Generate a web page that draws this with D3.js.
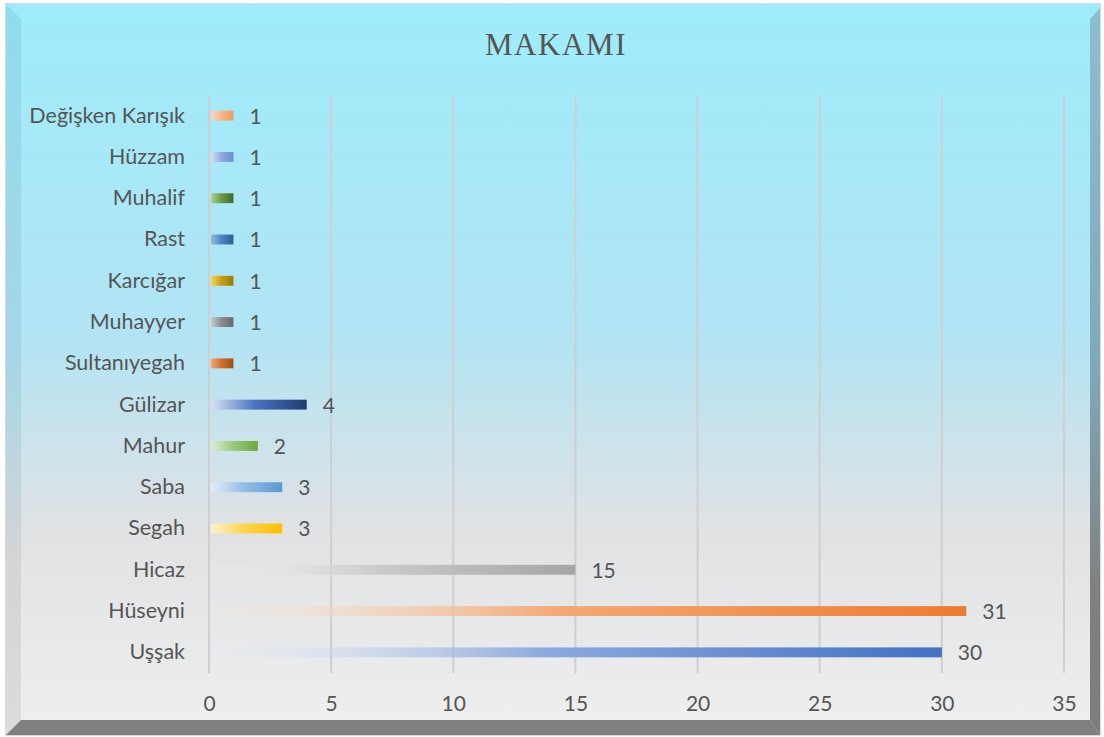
<!DOCTYPE html>
<html>
<head>
<meta charset="utf-8">
<script src="https://cdn.jsdelivr.net/npm/d3@7"></script>
<style>
  body { margin: 0; background: #fff; }
  svg { display: block; }
</style>
</head>
<body>
<div id="chart"></div>
<script>
const categories = ["Değişken Karışık", "Hüzzam", "Muhalif", "Rast", "Karcığar", "Muhayyer",
  "Sultanıyegah", "Gülizar", "Mahur", "Saba", "Segah", "Hicaz", "Hüseyni", "Uşşak"];
const values = [1, 1, 1, 1, 1, 1, 1, 4, 2, 3, 3, 15, 31, 30];
const xTicks = [0, 5, 10, 15, 20, 25, 30, 35];
// gradient stops for each bar: start tint, middle, end
const barColors = [
  ["#fbd7bd", "#f6b98c", "#f09a5c"],
  ["#d5def3", "#8eaae0", "#6a8fd3"],
  ["#a8d08d", "#6a9c45", "#3f6a28"],
  ["#8fb5e0", "#4f86c0", "#2a6099"],
  ["#ffd24d", "#c9a012", "#977a05"],
  ["#c8c8c8", "#8c8c8c", "#6a6a6a"],
  ["#f4a06a", "#d0702e", "#a14d17"],
  ["#d6e0f3", "#4a74c2", "#1f3b70"],
  ["#dcedd0", "#9ccb7f", "#6aa842"],
  ["#e3eef9", "#94bde6", "#5a9ad4"],
  ["#fff3cc", "#ffd54f", "#ffbf00"],
  ["#f2f2f2", "#cbcbcb", "#a5a5a5"],
  ["#fcebde", "#f3aa76", "#ed7b2f"],
  ["#e9eef8", "#8eaade", "#4271c4"]
];

const width = 1104, height = 737;
const margin = ({top: 95, right: 40, bottom: 64, left: 209});
const font = "Lato, 'Open Sans', sans-serif";
const textColor = "#555555";

const svg = d3.select("#chart").append("svg")
    .attr("width", width)
    .attr("height", height);

const defs = svg.append("defs");

// panel background: cyan at top, grey at bottom
const bg = defs.append("linearGradient")
    .attr("id", "bg-grad")
    .attr("x1", 0).attr("y1", 0).attr("x2", 0).attr("y2", 1);
bg.selectAll("stop")
  .data([
    {offset: "0%", color: "#9eecfb"},
    {offset: "45%", color: "#b2e4f4"},
    {offset: "72%", color: "#e0e2e4"},
    {offset: "100%", color: "#efefef"}
  ])
  .enter().append("stop")
    .attr("offset", d => d.offset)
    .attr("stop-color", d => d.color);

const rightBevel = defs.append("linearGradient")
    .attr("id", "right-bevel")
    .attr("x1", 0).attr("y1", 0).attr("x2", 0).attr("y2", 1);
rightBevel.selectAll("stop")
  .data([
    {offset: "0%", color: "#8cbfd0"},
    {offset: "50%", color: "#7fa9b8"},
    {offset: "80%", color: "#808080"},
    {offset: "100%", color: "#7c7c7c"}
  ])
  .enter().append("stop")
    .attr("offset", d => d.offset)
    .attr("stop-color", d => d.color);

const leftBevel = defs.append("linearGradient")
    .attr("id", "left-bevel")
    .attr("x1", 0).attr("y1", 0).attr("x2", 0).attr("y2", 1);
leftBevel.selectAll("stop")
  .data([
    {offset: "0%", color: "#8fdcef"},
    {offset: "50%", color: "#a8d6e6"},
    {offset: "75%", color: "#d2d4d6"},
    {offset: "100%", color: "#dcdcdc"}
  ])
  .enter().append("stop")
    .attr("offset", d => d.offset)
    .attr("stop-color", d => d.color);

// frame
const ox0 = 6, oy0 = 4, ox1 = 1100, oy1 = 735;
const ix0 = 21, iy0 = 7, ix1 = 1090, iy1 = 720;

svg.append("rect")
    .attr("x", ox0 - 1).attr("y", oy0 - 1)
    .attr("width", ox1 - ox0 + 2).attr("height", oy1 - oy0 + 2)
    .attr("fill", "#d9d9d9");

svg.append("rect")
    .attr("x", ox0).attr("y", oy0)
    .attr("width", ox1 - ox0).attr("height", oy1 - oy0)
    .attr("fill", "url(#bg-grad)");

svg.append("polygon")
    .attr("points", [[ox0, oy0], [ix0, iy0 + 12], [ix0, iy1], [ox0, oy1]].join(" "))
    .attr("fill", "url(#left-bevel)");

svg.append("polygon")
    .attr("points", [[ox1, oy0 + 4], [ix1, iy0 + 12], [ix1, iy1], [ox1, oy1]].join(" "))
    .attr("fill", "url(#right-bevel)");

svg.append("polygon")
    .attr("points", [[ox0, oy1], [ix0, iy1], [ix1, iy1], [ox1, oy1]].join(" "))
    .attr("fill", "#7f7f7f");

svg.append("text")
    .attr("x", 556)
    .attr("y", 55)
    .attr("text-anchor", "middle")
    .attr("font-family", "'Liberation Serif', 'DejaVu Serif', serif")
    .attr("font-size", 31)
    .attr("letter-spacing", 1.6)
    .attr("fill", textColor)
    .text("MAKAMI");

let x = d3.scaleLinear()
    .domain([0, 35])
    .range([margin.left, 1064]);

let y = d3.scaleBand()
    .domain(categories)
    .range([margin.top, 673])
    .paddingInner(0.76)
    .paddingOuter(0.38);

// gridlines
svg.append("g")
    .selectAll("line")
    .data(xTicks)
    .enter().append("line")
      .attr("x1", d => x(d)).attr("x2", d => x(d))
      .attr("y1", margin.top).attr("y2", 673)
      .attr("stroke", "#cfcfcf")
      .attr("stroke-width", 2);

// bar gradients
const grads = defs.selectAll(".bar-grad")
  .data(barColors)
  .enter().append("linearGradient")
    .attr("class", "bar-grad")
    .attr("id", (d, i) => "bar-grad-" + i)
    .attr("x1", 0).attr("y1", 0).attr("x2", 1).attr("y2", 0);
grads.selectAll("stop")
  .data(d => [
    {offset: "0%", color: d[0], op: values[barColors.indexOf(d)] > 5 ? 0.15 : 0.9},
    {offset: "45%", color: d[1], op: 1},
    {offset: "100%", color: d[2], op: 1}
  ])
  .enter().append("stop")
    .attr("offset", d => d.offset)
    .attr("stop-color", d => d.color)
    .attr("stop-opacity", d => d.op);

const bars = categories.map((c, i) => ({name: c, value: values[i], idx: i}));

svg.append("g")
    .selectAll("rect")
    .data(bars)
    .enter().append("rect")
      .attr("x", x(0) + 2)
      .attr("y", d => y(d.name))
      .attr("width", d => x(d.value) - x(0) - 2)
      .attr("height", y.bandwidth())
      .attr("fill", d => `url(#bar-grad-${d.idx})`);

svg.append("g")
    .selectAll("text")
    .data(bars)
    .enter().append("text")
      .attr("x", d => x(d.value) + 16)
      .attr("y", d => y(d.name) + y.bandwidth() / 2)
      .attr("dy", "0.38em")
      .attr("font-family", font)
      .attr("font-size", 21)
      .attr("fill", textColor)
      .text(d => d.value);

let yAxis = g => g
    .attr("transform", `translate(${margin.left - 24},0)`)
    .call(d3.axisLeft(y).tickSize(0).tickPadding(0))
    .call(g => g.select(".domain").remove())
    .call(g => g.selectAll("text")
        .attr("font-family", font)
        .attr("font-size", 21.5)
        .attr("fill", textColor));

let xAxis = g => g
    .attr("transform", `translate(0,${687})`)
    .call(d3.axisBottom(x).tickValues(xTicks).tickSize(0).tickPadding(0))
    .call(g => g.select(".domain").remove())
    .call(g => g.selectAll("text")
        .attr("font-family", font)
        .attr("font-size", 21)
        .attr("fill", textColor)
        .attr("dy", "0.71em")
        .attr("y", 9));

svg.append("g").call(yAxis);
svg.append("g").call(xAxis);
</script>
</body>
</html>
